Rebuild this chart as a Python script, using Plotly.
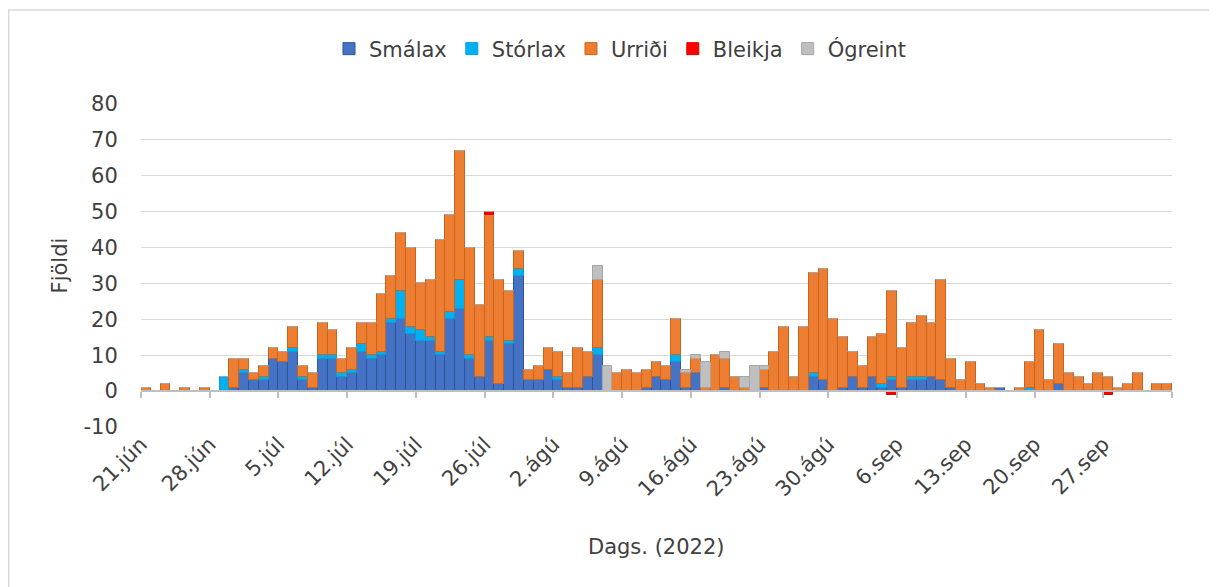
import pandas as pd
import plotly.graph_objects as go

# ---- data -------------------------------------------------------------
dates = pd.date_range("2022-06-21", "2022-10-03", freq="D").strftime("%Y-%m-%d").tolist()

smalax = [0, 0, 0, 0, 0, 0, 0, 0, 0, 1,
          5, 3, 3, 9, 8, 11, 3, 1, 9, 9,
          4, 5, 11, 9, 10, 19, 20, 16, 14, 14,
          10, 20, 23, 9, 4, 14, 2, 13, 32, 3,
          3, 6, 3, 1, 1, 4, 10, 0, 0, 0,
          0, 1, 4, 3, 8, 1, 5, 0, 0, 1,
          0, 0, 0, 1, 0, 0, 0, 0, 4, 3,
          0, 1, 4, 1, 4, 1, 3, 1, 3, 3,
          4, 3, 1, 0, 0, 0, 0, 1, 0, 0,
          0, 0, 0, 2, 0, 0, 0, 0, 0, 0,
          0, 0, 0, 0, 0]
storlax = [0, 0, 0, 0, 0, 0, 0, 0, 4, 0,
           1, 0, 1, 0, 0, 1, 1, 0, 1, 1,
           1, 1, 2, 1, 1, 1, 8, 2, 3, 1,
           1, 2, 8, 1, 0, 1, 0, 1, 2, 0,
           0, 0, 1, 0, 0, 0, 2, 0, 0, 0,
           0, 0, 0, 0, 2, 0, 0, 0, 0, 0,
           0, 0, 0, 0, 0, 0, 0, 0, 1, 0,
           0, 0, 0, 0, 0, 1, 1, 0, 1, 1,
           0, 0, 0, 0, 0, 0, 0, 0, 0, 0,
           1, 0, 0, 0, 0, 0, 0, 0, 0, 0,
           0, 0, 0, 0, 0]
urridi = [1, 0, 2, 0, 1, 0, 1, 0, 0, 8,
          3, 2, 3, 3, 3, 6, 3, 4, 9, 7,
          4, 6, 6, 9, 16, 12, 16, 22, 13, 16,
          31, 27, 36, 30, 20, 34, 29, 14, 5, 3,
          4, 6, 7, 4, 11, 7, 19, 0, 5, 6,
          5, 5, 4, 4, 10, 4, 4, 1, 10, 8,
          4, 1, 0, 5, 11, 18, 4, 18, 28, 31,
          20, 14, 7, 6, 11, 14, 24, 11, 15, 17,
          15, 28, 8, 3, 8, 2, 1, 0, 0, 1,
          7, 17, 3, 11, 5, 4, 2, 5, 4, 1,
          2, 5, 0, 2, 2]
bleikja = [0] * 35 + [1] + [0] * 40 + [-1] + [0] * 21 + [-1] + [0] * 6
ogreint = [0, 0, 0, 0, 0, 0, 0, 0, 0, 0,
           0, 0, 0, 0, 0, 0, 0, 0, 0, 0,
           0, 0, 0, 0, 0, 0, 0, 0, 0, 0,
           0, 0, 0, 0, 0, 0, 0, 0, 0, 0,
           0, 0, 0, 0, 0, 0, 4, 7, 0, 0,
           0, 0, 0, 0, 0, 1, 1, 7, 0, 2,
           0, 3, 7, 1, 0, 0, 0, 0, 0, 0,
           0, 0, 0, 0, 0, 0, 0, 0, 0, 0,
           0, 0, 0, 0, 0, 0, 0, 0, 0, 0,
           0, 0, 0, 0, 0, 0, 0, 0, 0, 0,
           0, 0, 0, 0, 0]

tick_dates = ["2022-06-21", "2022-06-28", "2022-07-05", "2022-07-12", "2022-07-19",
              "2022-07-26", "2022-08-02", "2022-08-09", "2022-08-16", "2022-08-23",
              "2022-08-30", "2022-09-06", "2022-09-13", "2022-09-20", "2022-09-27"]
tick_labels = ["21.jún", "28.jún", "5.júl", "12.júl", "19.júl", "26.júl", "2.ágú",
               "9.ágú", "16.ágú", "23.ágú", "30.ágú", "6.sep", "13.sep", "20.sep", "27.sep"]
axis_end = "2022-10-04"
y_ticks = [-10, 0, 10, 20, 30, 40, 50, 60, 70, 80]
y_labels = ["-10", "0", "10", "20", "30", "40", "50", "60", "70", "80"]

series = [
    ("Smálax", smalax, "#4472C4", "#2F5597"),
    ("Stórlax", storlax, "#00B0F0", "#00A0DC"),
    ("Urriði", urridi, "#ED7D31", "#C8641E"),
    ("Bleikja", bleikja, "#FF0000", "#E00000"),
    ("Ógreint", ogreint, "#BFBFBF", "#A5A5A5"),
]

FONT = "DejaVu Sans"
FS = 21
TXT = "#404040"
DAY_MS = 86400000

W, H = 1209, 579
L, T = 133, 96
R = W - 1164
B = H - 419
PH = H - T - B
PW = W - L - R

fig = go.Figure()
for name, vals, col, lcol in series:
    fig.add_trace(go.Bar(
        x=dates, y=vals, name=name,
        width=DAY_MS, offset=0,
        marker=dict(color=col, line=dict(color=lcol, width=1)),
    ))

# helper trace so the zero-line axis is drawn
fig.add_trace(go.Scatter(x=[dates[0]], y=[None], xaxis="x2", showlegend=False,
                         hoverinfo="skip"))

fig.update_layout(
    width=W, height=H,
    margin=dict(l=L, r=R, t=T, b=B),
    paper_bgcolor="white", plot_bgcolor="white",
    barmode="relative", bargap=0,
    font=dict(family=FONT, size=FS, color=TXT),
    legend=dict(orientation="h", x=(612 - L) / PW, xanchor="center",
                y=1 + (T - 41) / PH, yanchor="middle",
                font=dict(size=FS, color=TXT), traceorder="normal",
                itemwidth=30, bgcolor="rgba(0,0,0,0)"),
    xaxis=dict(type="date", range=[dates[0], axis_end],
               tickmode="array", tickvals=tick_dates, ticktext=tick_labels,
               tickangle=-45, showgrid=False, zeroline=False, showline=False,
               ticks="", tickfont=dict(size=FS, color=TXT)),
    xaxis2=dict(type="date", overlaying="x", matches="x", anchor="free", position=10 / 90,
                side="bottom", range=[dates[0], axis_end],
                tickmode="array", tickvals=tick_dates + [axis_end],
                showticklabels=False, showgrid=False, zeroline=False,
                showline=True, linecolor="#BFBFBF", linewidth=1.5,
                ticks="outside", ticklen=6, tickcolor="#BFBFBF", tickwidth=1.5),
    yaxis=dict(range=[-10, 80], tickmode="array", tickvals=y_ticks, ticktext=y_labels,
               showgrid=True, gridcolor="#D9D9D9",
               gridwidth=1.3, zeroline=False, showline=False,
               ticks="outside", ticklen=18, tickcolor="rgba(0,0,0,0)",
               tickfont=dict(size=FS, color=TXT),
               title=dict(text="Fjöldi", font=dict(size=FS, color=TXT), standoff=10)),
    annotations=[dict(text="Dags. (2022)", xref="paper", yref="paper",
                      x=(648 - L) / PW, y=-(539 - 419) / PH,
                      xanchor="center", yanchor="middle", showarrow=False,
                      font=dict(size=FS, color=TXT))],
    shapes=[dict(type="rect", xref="paper", yref="paper",
                 x0=(0.75 - L) / PW, x1=1.2, y0=-0.7, y1=1 + (T - 2) / PH,
                 line=dict(color="#D9D9D9", width=1.5), fillcolor="rgba(0,0,0,0)",
                 layer="below")],
)

fig.write_html("out.html")
